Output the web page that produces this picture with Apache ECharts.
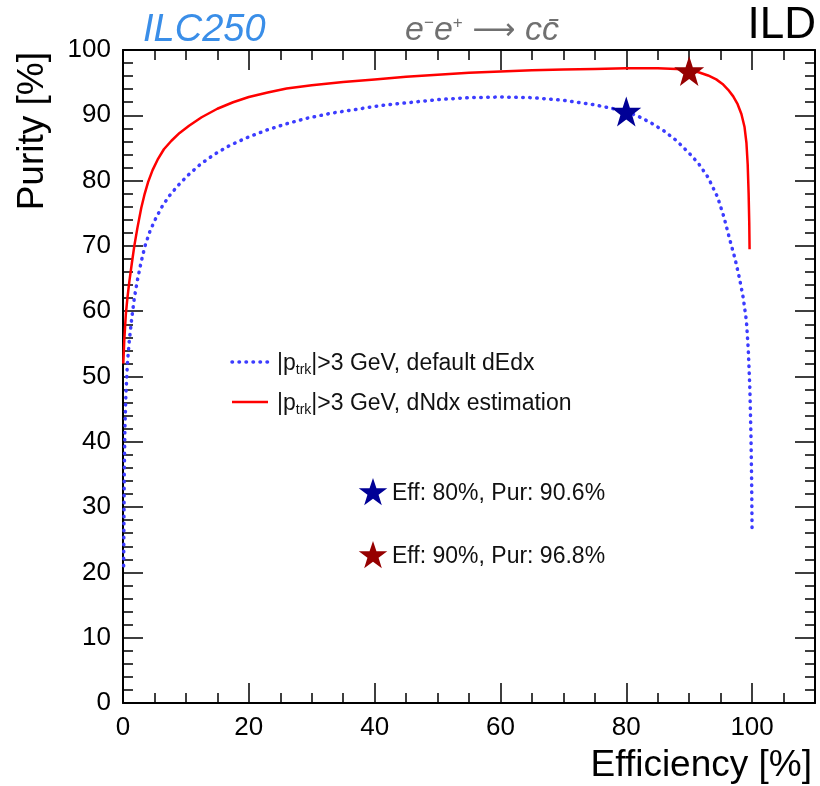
<!DOCTYPE html>
<html>
<head>
<meta charset="utf-8">
<script src="https://cdn.jsdelivr.net/npm/echarts@6/dist/echarts.min.js"></script>
<style>
  html, body { margin: 0; padding: 0; background: #fff; }
  #chart { width: 820px; height: 786px; }
</style>
</head>
<body>
<div id="chart"></div>
<script>
// ===== 数据 =====
// dNdx estimation, |p_trk|>3 GeV  (red, solid)
var effDndx = [0.05, 0.2, 0.45, 0.7, 1.0, 1.4, 1.8, 2.3, 2.9, 3.4, 4, 4.7, 5.5, 6.5, 7.7, 9, 10.5, 12.5, 15, 17.5,
  20, 23, 26, 30, 35, 40, 45, 50, 55, 60, 65, 70, 75, 80, 85, 88, 90, 91.5, 93, 94.3,
  95.3, 96.2, 97, 97.7, 98.3, 98.8, 99.1, 99.3, 99.45, 99.55, 99.6];
var purDndx = [52, 55.5, 59.5, 62, 64.5, 67.3, 70, 72.8, 75.8, 77.8, 79.8, 81.6, 83.2, 84.8, 86.1, 87.3, 88.4, 89.7, 91, 92,
  92.8, 93.5, 94.1, 94.6, 95.1, 95.5, 95.9, 96.2, 96.5, 96.7, 96.9, 97.0, 97.1, 97.2, 97.2, 97.1, 96.9, 96.6, 96.1, 95.5,
  94.8, 93.9, 92.9, 91.7, 90.2, 88.2, 85.8, 82.5, 78, 73.5, 69.5];

// default dEdx, |p_trk|>3 GeV  (blue, dotted)
var effDedx = [0.1, 0.15, 0.2, 0.3, 0.45, 0.7, 1.0, 1.4, 1.8, 2.3, 2.9, 3.5, 4.3, 5.2, 6.2, 7.3, 8.7, 10.3, 12.3, 14.5,
  17, 20, 23, 26, 29, 33, 37, 41, 45, 50, 55, 60, 65, 70, 75, 80, 82, 84, 86, 88,
  90, 91.5, 93, 94.5, 95.5, 96.5, 97.3, 98, 98.6, 99.1, 99.4, 99.65, 99.82, 99.93, 100];
var purDedx = [21, 28, 35, 42, 47, 52, 55.5, 59, 62, 64.8, 67.6, 70, 72.3, 74.2, 76, 77.6, 79.2, 80.8, 82.5, 84,
  85.4, 86.7, 87.8, 88.7, 89.5, 90.3, 90.9, 91.5, 91.9, 92.4, 92.7, 92.8, 92.7, 92.3, 91.6, 90.6, 89.8, 88.8, 87.6, 86.1,
  84.2, 82.6, 80.5, 77.5, 74.5, 70.8, 68, 65, 62, 58.5, 54, 48, 41, 34, 26];

// working points
var wpDedx = [80, 90.6];
var wpDndx = [90, 96.8];

var legendLabels = ['>3 GeV, default dEdx', '>3 GeV, dNdx estimation'];
var wpLabels = ['Eff: 80%, Pur: 90.6%', 'Eff: 90%, Pur: 96.8%'];

var FONT = '"Liberation Sans", Arial, Helvetica, sans-serif';
var BLUE = '#3c3cff';
var RED = '#ff0000';
var STAR_BLUE = '#000096';
var STAR_RED = '#960000';

function zip(a, b) {
  return a.map(function(v, i) { return [v, b[i]]; });
}

// 五角星 symbol
function starPath() {
  var pts = [];
  for (var i = 0; i < 10; i++) {
    var r = (i % 2 === 0) ? 50 : 19.5;
    var a = -Math.PI / 2 + i * Math.PI / 5;
    pts.push((50 + r * Math.cos(a)).toFixed(2) + ',' + (50 + r * Math.sin(a)).toFixed(2));
  }
  return 'path://M' + pts.join('L') + 'Z';
}
function starPoints(cx, cy, R) {
  var pts = [];
  for (var i = 0; i < 10; i++) {
    var r = (i % 2 === 0) ? R : R * 0.39;
    var a = -Math.PI / 2 + i * Math.PI / 5;
    pts.push([cx + r * Math.cos(a), cy + r * Math.sin(a)]);
  }
  return pts;
}

var chart = echarts.init(document.getElementById('chart'), null, { renderer: 'canvas' });

// major / minor ticks drawn by two overlapping axes (ROOT style, ticks inside)
function xAx(pos, major, showLabel) {
  return {
    type: 'value', position: pos, min: 0, max: 110, interval: major ? 20 : 5,
    axisLine: { show: major, onZero: false, lineStyle: { color: '#000', width: 2 } },
    axisTick: { show: true, inside: true, length: major ? 20 : 10, lineStyle: { color: '#000', width: 1.5 } },
    axisLabel: {
      show: showLabel, margin: 12, color: '#000', fontSize: 26, fontFamily: FONT,
      formatter: function(v) { return v > 100 ? '' : String(v); }
    },
    splitLine: { show: false }
  };
}
function yAx(pos, major, showLabel) {
  return {
    type: 'value', position: pos, min: 0, max: 100, interval: major ? 10 : 2,
    axisLine: { show: major, onZero: false, lineStyle: { color: '#000', width: 2 } },
    axisTick: { show: true, inside: true, length: major ? 20 : 10, lineStyle: { color: '#000', width: 1.5 } },
    axisLabel: { show: showLabel, margin: 12, color: '#000', fontSize: 26, fontFamily: FONT },
    splitLine: { show: false }
  };
}

var sym = starPath();

var legendRich = {
  n: { fontSize: 23, fontFamily: FONT, fill: '#111', lineHeight: 28 },
  s: { fontSize: 14, fontFamily: FONT, fill: '#111', padding: [13, 0, 0, 0], lineHeight: 14 }
};

var option = {
  backgroundColor: '#fff',
  animation: false,
  grid: { left: 123, right: 5, top: 50, bottom: 83, containLabel: false },
  xAxis: [xAx('bottom', true, true), xAx('bottom', false, false), xAx('top', true, false), xAx('top', false, false)],
  yAxis: [yAx('left', true, true), yAx('left', false, false), yAx('right', true, false), yAx('right', false, false)],
  series: [
    {
      name: 'dEdx', type: 'line', xAxisIndex: 0, yAxisIndex: 0,
      data: zip(effDedx, purDedx), showSymbol: false, smooth: false,
      lineStyle: { color: BLUE, width: 3.5, type: [0.5, 6.5], cap: 'round' }, z: 3
    },
    {
      name: 'dNdx', type: 'line', xAxisIndex: 0, yAxisIndex: 0,
      data: zip(effDndx, purDndx), showSymbol: false, smooth: false,
      lineStyle: { color: RED, width: 2.5 }, z: 4
    },
    {
      name: 'wp', type: 'scatter', xAxisIndex: 0, yAxisIndex: 0,
      symbol: sym, symbolSize: 30,
      data: [
        { value: wpDedx, itemStyle: { color: STAR_BLUE, opacity: 1 } },
        { value: wpDndx, itemStyle: { color: STAR_RED, opacity: 1 } }
      ],
      z: 6
    }
  ],
  graphic: [
    // 标题
    { type: 'text', x: 143, y: 30, style: { text: 'ILC250', fill: '#3a8ee8', font: 'italic 38px ' + FONT, textVerticalAlign: 'middle' } },
    { type: 'text', x: 482, y: 31, style: {
        text: '{n|e}{p|−}{n|e}{p|+}{a| ⟶ }{n|c}{n|c\u0304}', textAlign: 'center', textVerticalAlign: 'middle',
        rich: {
          n: { fontSize: 34, fontStyle: 'italic', fontFamily: FONT, fill: '#707070', lineHeight: 36 },
          a: { fontSize: 30, fontFamily: '"DejaVu Sans", ' + FONT, fill: '#707070', lineHeight: 36 },
          p: { fontSize: 17, fontFamily: FONT, fill: '#707070', padding: [0, 0, 16, 0], lineHeight: 17 }
        } } },
    { type: 'text', x: 816, y: 26, style: { text: 'ILD', fill: '#000', font: '44px ' + FONT, textAlign: 'right', textVerticalAlign: 'middle' } },
    // 轴标题
    { type: 'text', x: 812, y: 766, style: { text: 'Efficiency [%]', fill: '#000', font: '37px ' + FONT, textAlign: 'right', textVerticalAlign: 'middle' } },
    { type: 'text', x: 33, y: 52, rotation: Math.PI / 2, style: { text: 'Purity [%]', fill: '#000', font: '37px ' + FONT, textAlign: 'right', textVerticalAlign: 'middle' } },
    // 图例
    { type: 'line', shape: { x1: 232, y1: 362, x2: 268, y2: 362 }, style: { stroke: BLUE, lineWidth: 3.5, lineDash: [0.5, 6.5], lineCap: 'round' } },
    { type: 'line', shape: { x1: 232, y1: 402, x2: 268, y2: 402 }, style: { stroke: RED, lineWidth: 2.5 } },
    { type: 'text', x: 277, y: 364, style: { text: '{n||p}{s|trk}{n||' + legendLabels[0] + '}', textVerticalAlign: 'middle', rich: legendRich } },
    { type: 'text', x: 277, y: 404, style: { text: '{n||p}{s|trk}{n||' + legendLabels[1] + '}', textVerticalAlign: 'middle', rich: legendRich } },
    // 工作点说明
    { type: 'polygon', shape: { points: starPoints(373, 493, 15) }, style: { fill: STAR_BLUE } },
    { type: 'polygon', shape: { points: starPoints(373, 556, 15) }, style: { fill: STAR_RED } },
    { type: 'text', x: 392, y: 494, style: { text: wpLabels[0], fill: '#111', font: '23px ' + FONT, textVerticalAlign: 'middle' } },
    { type: 'text', x: 392, y: 557, style: { text: wpLabels[1], fill: '#111', font: '23px ' + FONT, textVerticalAlign: 'middle' } }
  ]
};

chart.setOption(option);
</script>
</body>
</html>
